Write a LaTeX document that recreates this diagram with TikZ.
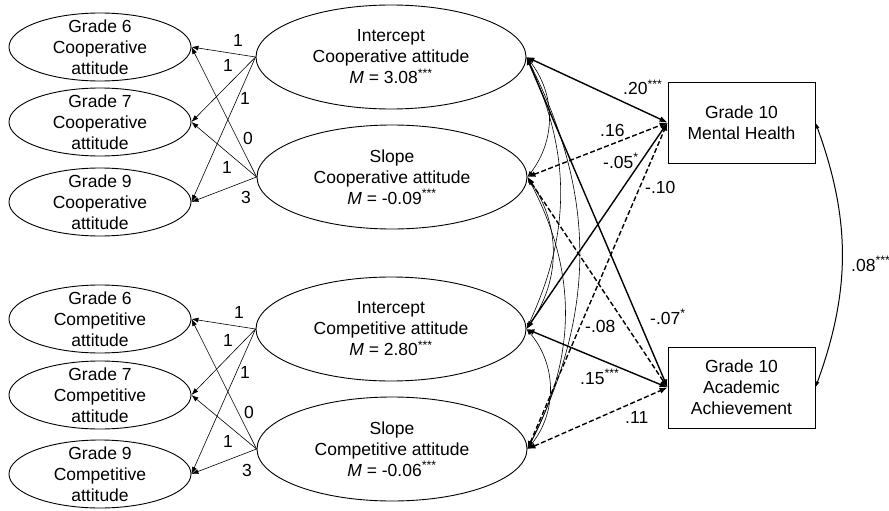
\documentclass[tikz,border=0pt]{standalone}
\usepackage{fontspec}
\setmainfont{Liberation Sans}
\usetikzlibrary{shapes.geometric,arrows.meta}
\begin{document}
\begin{tikzpicture}[x=1pt,y=-1pt,
 every node/.style={font=\fontsize{17.5}{21}\selectfont},
 obs/.style={draw, ellipse, line width=0.9pt, inner sep=0pt, minimum width=182pt, minimum height=68pt},
 lat/.style={draw, ellipse, line width=0.9pt, inner sep=0pt, minimum width=270pt, minimum height=104pt},
 outbox/.style={draw, rectangle, line width=0.9pt, minimum width=147pt, minimum height=81pt, align=center, inner sep=0pt},
 txt/.style={align=center, inner sep=0pt},
 load/.style={line width=0.6pt, -{Latex[length=7pt,width=5pt]}},
 spath/.style={line width=1.4pt, {Latex[length=8pt,width=6pt]}-{Latex[length=8pt,width=6pt]}},
 dpath/.style={spath, dash pattern=on 5pt off 2.5pt},
 corr/.style={line width=0.6pt, {Latex[length=6pt,width=4pt]}-{Latex[length=6pt,width=4pt]}},
 lab/.style={anchor=base west, inner sep=0pt},
 mlab/.style={anchor=center, inner sep=0pt}
]
\useasboundingbox (0,0) rectangle (889,511);

% observed ellipses
\node[obs] (c6) at (100,47) {};
\node[txt] (c6t) at (c6) {Grade 6\\Cooperative\\attitude};
\node[obs] (c7) at (100,122) {};
\node[txt] (c7t) at (c7) {Grade 7\\Cooperative\\attitude};
\node[obs] (c9) at (100,202) {};
\node[txt] (c9t) at (c9) {Grade 9\\Cooperative\\attitude};
\node[obs] (p6) at (100,319) {};
\node[txt] (p6t) at (p6) {Grade 6\\Competitive\\attitude};
\node[obs] (p7) at (100,395) {};
\node[txt] (p7t) at (p7) {Grade 7\\Competitive\\attitude};
\node[obs] (p9) at (100,474) {};
\node[txt] (p9t) at (p9) {Grade 9\\Competitive\\attitude};

% latent ellipses
\node[lat] (ic) at (391,57) {};
\node[txt] (ict) at (ic) {Intercept\\Cooperative attitude\\\textit{M} = 3.08\textsuperscript{***}};
\node[lat] (sc) at (392,177) {};
\node[txt] (sct) at (sc) {Slope\\Cooperative attitude\\\textit{M} = -0.09\textsuperscript{***}};
\node[lat] (icp) at (391,329) {};
\node[txt] (icpt) at (icp) {Intercept\\Competitive attitude\\\textit{M} = 2.80\textsuperscript{***}};
\node[lat] (scp) at (392,449) {};
\node[txt] (scpt) at (scp) {Slope\\Competitive attitude\\\textit{M} = -0.06\textsuperscript{***}};

% outcome boxes
\node[outbox] (mh) at (741.5,122.5) {Grade 10\\Mental Health};
\node[outbox] (aa) at (741.5,387.5) {Grade 10\\Academic\\Achievement};

% loadings
\draw[load] (ic.west) -- (c6.east);
\draw[load] (ic.west) -- (c7.east);
\draw[load] (ic.west) -- (c9.east);
\draw[load] (sc.west) -- (c6.east);
\draw[load] (sc.west) -- (c7.east);
\draw[load] (sc.west) -- (c9.east);
\draw[load] (icp.west) -- (p6.east);
\draw[load] (icp.west) -- (p7.east);
\draw[load] (icp.west) -- (p9.east);
\draw[load] (scp.west) -- (p6.east);
\draw[load] (scp.west) -- (p7.east);
\draw[load] (scp.west) -- (p9.east);

\node[mlab] (l1) at (238,40) {1};
\node[mlab] (l2) at (228,65) {1};
\node[mlab] (l3) at (245,98) {1};
\node[mlab] (l4) at (248,138) {0};
\node[mlab] (l5) at (227,167) {1};
\node[mlab] (l6) at (246,197) {3};
\node[mlab] (l7) at (239,312) {1};
\node[mlab] (l8) at (228,340) {1};
\node[mlab] (l9) at (245,372) {1};
\node[mlab] (l10) at (249,412) {0};
\node[mlab] (l11) at (228,441) {1};
\node[mlab] (l12) at (247,470) {3};

% correlations among latent factors
\draw[corr] (ic.east) to[bend left=38] (sc.east);
\draw[corr] (ic.east) to[bend left=25] (icp.east);
\draw[corr] (ic.east) to[bend left=27] (scp.east);
\draw[corr] (sc.east) to[bend left=35] (icp.east);
\draw[corr] (sc.east) to[bend left=28] (scp.east);
\draw[corr] (icp.east) to[bend left=40] (scp.east);

% structural paths
\draw[spath] (ic.east) -- (mh.west);
\draw[dpath] (sc.east) -- (mh.west);
\draw[spath] (icp.east) -- (mh.west);
\draw[dpath] (scp.east) -- (mh.west);
\draw[spath] (ic.east) -- (aa.west);
\draw[dpath] (sc.east) -- (aa.west);
\draw[spath] (icp.east) -- (aa.west);
\draw[dpath] (scp.east) -- (aa.west);

% outcome correlation
\draw[corr, line width=1pt] (mh.east) to[bend left=20] (aa.east);

% path labels
\node[lab] (k1) at (623,95) {.20\textsuperscript{***}};
\node[lab] (k2) at (600,136) {.16};
\node[lab] (k3) at (603,168) {-.05\textsuperscript{*}};
\node[lab] (k4) at (645,193) {-.10};
\node[lab] (k5) at (650,324) {-.07\textsuperscript{*}};
\node[lab] (k6) at (585,332) {-.08};
\node[lab] (k7) at (580,384) {.15\textsuperscript{***}};
\node[lab] (k8) at (625,423) {.11};
\node[lab] (k9) at (851,271) {.08\textsuperscript{***}};
\end{tikzpicture}
\end{document}
